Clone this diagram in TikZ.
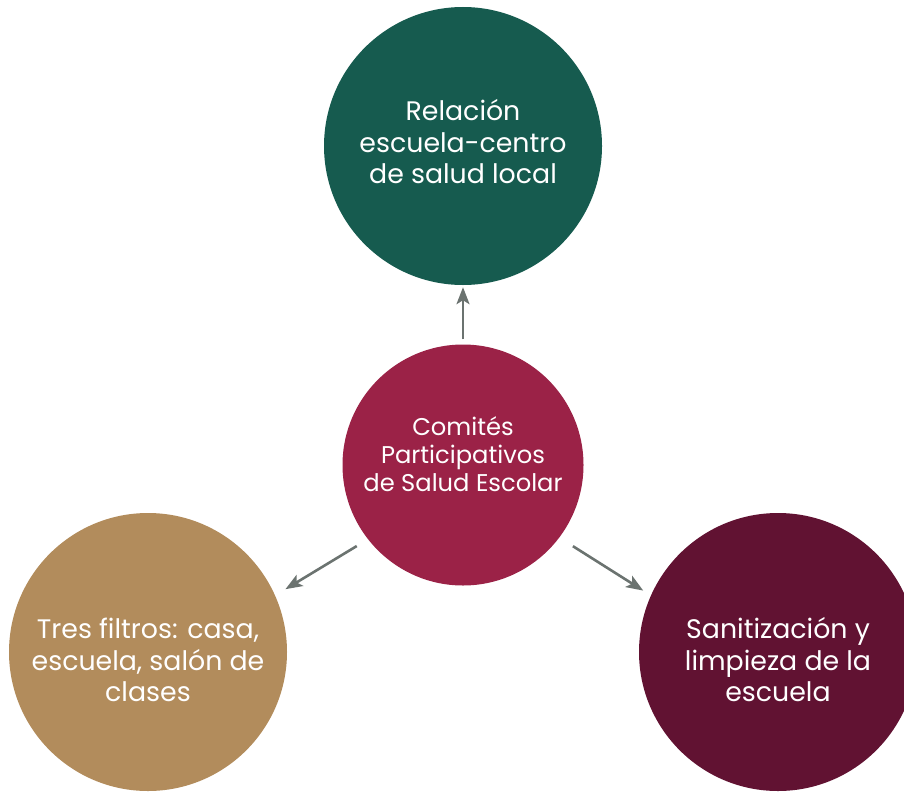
\documentclass[tikz,border=0pt]{standalone}
\usepackage{fontspec}
\setmainfont{Poppins}
\usetikzlibrary{arrows.meta}
\definecolor{verde}{HTML}{165B4F}
\definecolor{guinda}{HTML}{9B2247}
\definecolor{vino}{HTML}{611232}
\definecolor{dorado}{HTML}{B28C5C}
\definecolor{flecha}{HTML}{6B7370}
\tikzset{
  bola/.style={circle, inner sep=0pt, minimum size=278pt},
  texto/.style={text=white, align=center, font=\fontsize{26.8}{31.5}\selectfont},
  textochico/.style={texto, font=\fontsize{24.2}{28}\selectfont},
  liga/.style={draw=flecha, line width=2.6pt,
    -{Stealth[length=17pt,width=13pt,inset=4pt]}}
}

\begin{document}
\begin{tikzpicture}[x=1pt,y=-1pt]
\useasboundingbox (0,0) rectangle (904,792);
\clip (0,0) rectangle (904,792);
\node[bola, fill=verde] (salud) at (463,146) {};
\node[bola, fill=guinda, minimum size=241pt] (comites) at (463,465) {};
\node[bola, fill=dorado] (filtros) at (148,652) {};
\node[bola, fill=vino] (limpieza) at (778,652) {};
\node[texto, yshift=4pt] (saludtxt) at (salud) {Relación\\escuela-centro\\de salud local};
\node[textochico, yshift=11pt] (comitestxt) at (comites) {Comités\\Participativos\\de Salud Escolar};
\node[texto, yshift=-8pt] (filtrostxt) at (filtros) {Tres filtros: casa,\\escuela, salón de\\clases};
\node[texto, yshift=-8pt] (limpiezatxt) at (limpieza) {Sanitización y\\limpieza de la\\escuela};
\draw[liga, shorten <=5pt, shorten >=2pt] (comites.north) -- (salud.south);
\draw[liga, shorten <=13pt, shorten >=12pt] (comites.218) -- (filtros.24);
\draw[liga, shorten <=16pt, shorten >=9pt] (comites.323) -- (limpieza.156);
\end{tikzpicture}
\end{document}
